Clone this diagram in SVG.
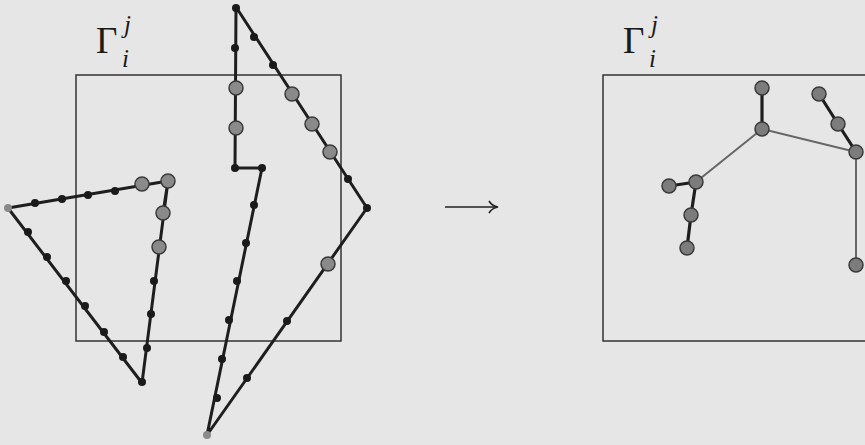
<svg xmlns="http://www.w3.org/2000/svg" width="865" height="445" viewBox="0 0 865 445">
<style>
.bg{fill:#e6e6e6}
.box{fill:none;stroke:#333;stroke-width:1.5}
.path{fill:none;stroke:#1e1e1e;stroke-width:3;stroke-linejoin:round}
.thin{fill:none;stroke:#666;stroke-width:2}
.thick{fill:none;stroke:#1e1e1e;stroke-width:3.2}
.d{fill:#1a1a1a}
.g{fill:#8a8a8a;stroke:#3a3a3a;stroke-width:1.5}
.s{fill:#8a8a8a}
.n{fill:#7c7c7c;stroke:#3a3a3a;stroke-width:1.5}
.lab{font-family:"Liberation Serif","DejaVu Serif",serif;fill:#1a1a1a}
.arrow{stroke:#222;stroke-width:1.6;fill:none}
</style>
<rect class="bg" x="0" y="0" width="865" height="445"/>

<g id="left-box">
<rect class="box" x="76" y="75" width="265" height="266"/>
<text class="lab" x="96" y="53" font-size="37">Γ</text>
<text class="lab" x="124" y="33" font-size="25" font-style="italic">j</text>
<text class="lab" x="122" y="67" font-size="25" font-style="italic">i</text>
</g>

<g id="right-box">
<rect class="box" x="603" y="75" width="270" height="266"/>
<text class="lab" x="623" y="53" font-size="37">Γ</text>
<text class="lab" x="651" y="33" font-size="25" font-style="italic">j</text>
<text class="lab" x="649" y="67" font-size="25" font-style="italic">i</text>
</g>

<g id="connectors">
<polyline class="path" points="168,181 142,383 8,208 168,181 163,213"/>
<polyline class="path" points="236,7 235,168 262,168 207,435 367,208 236,7"/>
<g id="arrow">
<line class="arrow" x1="445" y1="207" x2="497" y2="207"/>
<path class="arrow" d="M489,201 Q492,206 498,207 Q492,208 489,213"/>
</g>
<line class="thin" x1="762" y1="129" x2="856" y2="152"/>
<line class="thin" x1="762" y1="129" x2="696" y2="182"/>
<line class="thin" x1="856" y1="152" x2="856" y2="265"/>
<line class="thick" x1="762" y1="88" x2="762" y2="129"/>
<polyline class="thick" points="819,94 838,124 856,152"/>
<line class="thick" x1="696" y1="182" x2="669" y2="186"/>
<polyline class="thick" points="696,182 691,215 687,248"/>
</g>

<g id="shape1">
<circle class="s" cx="8" cy="208" r="4"/>
<circle class="d" cx="35" cy="203" r="4"/>
<circle class="d" cx="62" cy="199" r="4"/>
<circle class="d" cx="88" cy="195" r="4"/>
<circle class="d" cx="115" cy="191" r="4"/>
<circle class="g" cx="142" cy="184" r="7"/>
<circle class="g" cx="168" cy="181" r="7"/>
<circle class="g" cx="163" cy="213" r="7"/>
<circle class="g" cx="159" cy="247" r="7"/>
<circle class="d" cx="154" cy="281" r="4"/>
<circle class="d" cx="151" cy="314" r="4"/>
<circle class="d" cx="147" cy="348" r="4"/>
<circle class="d" cx="142" cy="382" r="4"/>
<circle class="d" cx="123" cy="357" r="4"/>
<circle class="d" cx="104" cy="332" r="4"/>
<circle class="d" cx="85" cy="306" r="4"/>
<circle class="d" cx="66" cy="281" r="4"/>
<circle class="d" cx="47" cy="257" r="4"/>
<circle class="d" cx="28" cy="232" r="4"/>
</g>

<g id="shape2">
<circle class="d" cx="236" cy="8" r="4"/>
<circle class="d" cx="235" cy="48" r="4"/>
<circle class="g" cx="236" cy="88" r="7"/>
<circle class="g" cx="236" cy="128" r="7"/>
<circle class="d" cx="235" cy="168" r="4"/>
<circle class="d" cx="262" cy="168" r="4"/>
<circle class="d" cx="254" cy="205" r="4"/>
<circle class="d" cx="246" cy="243" r="4"/>
<circle class="d" cx="237" cy="281" r="4"/>
<circle class="d" cx="229" cy="320" r="4"/>
<circle class="d" cx="222" cy="359" r="4"/>
<circle class="d" cx="217" cy="398" r="4"/>
<circle class="s" cx="207" cy="435" r="4"/>
<circle class="d" cx="247" cy="378" r="4"/>
<circle class="d" cx="287" cy="321" r="4"/>
<circle class="g" cx="328" cy="264" r="7"/>
<circle class="d" cx="367" cy="208" r="4"/>
<circle class="d" cx="348" cy="179" r="4"/>
<circle class="g" cx="330" cy="152" r="7"/>
<circle class="g" cx="312" cy="124" r="7"/>
<circle class="g" cx="292" cy="94" r="7"/>
<circle class="d" cx="273" cy="65" r="4"/>
<circle class="d" cx="254" cy="37" r="4"/>
</g>

<g id="graph">
<circle id="nA" class="n" cx="762" cy="88" r="7"/>
<circle id="nB" class="n" cx="762" cy="129" r="7"/>
<circle id="nC" class="n" cx="819" cy="94" r="7"/>
<circle id="nD" class="n" cx="838" cy="124" r="7"/>
<circle id="nE" class="n" cx="856" cy="152" r="7"/>
<circle id="nF" class="n" cx="856" cy="265" r="7"/>
<circle id="nG" class="n" cx="696" cy="182" r="7"/>
<circle id="nH" class="n" cx="669" cy="186" r="7"/>
<circle id="nI" class="n" cx="691" cy="215" r="7"/>
<circle id="nJ" class="n" cx="687" cy="248" r="7"/>
</g>
</svg>
